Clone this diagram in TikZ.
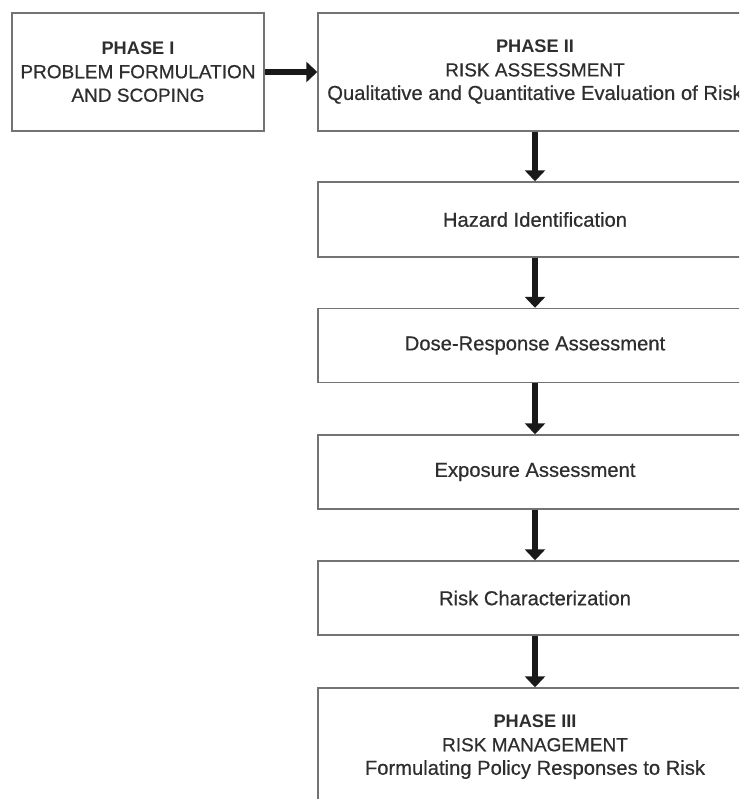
\documentclass[tikz,border=0pt]{standalone}
\usepackage{fontspec}
\setmainfont{Liberation Sans}
\newfontfamily\medfont{Liberation Sans}[FakeBold=0.5]
\usetikzlibrary{arrows.meta}
\definecolor{boxline}{gray}{0.45}
\definecolor{txt}{gray}{0.18}
\newcommand{\hd}[1]{{\fontsize{18.2}{23.5}\selectfont\bfseries #1}}
\newcommand{\cp}[1]{{\fontsize{19}{23.5}\selectfont\medfont #1}}
\newcommand{\lc}[1]{{\fontsize{20.2}{23.5}\selectfont\medfont #1}}
\begin{document}
\begin{tikzpicture}[x=1pt,y=-1pt,
  box/.style={draw=boxline, line width=1.4pt, fill=white, inner sep=0pt,
    text=txt, align=center, font=\fontsize{19}{23.5}\selectfont},
  wide/.style={box, minimum width=434pt},
  conn/.style={line width=6.5pt, draw=black!90,
    -{Triangle[width=20pt,length=11pt]}}]
\useasboundingbox (0,0) rectangle (739,799);
\clip (0,0) rectangle (739,799);
\node[box, minimum width=252pt, minimum height=118pt] (p1) at (138,72)
  {\hd{PHASE I}\\\cp{PROBLEM FORMULATION}\\\cp{AND SCOPING}};
\node[wide, minimum height=118pt] (p2) at (535,72)
  {\hd{PHASE II}\\\cp{RISK ASSESSMENT}\\\lc{Qualitative and Quantitative Evaluation of Risk}};
\node[wide, minimum height=75pt] (haz) at (535,219.5) {\lc{Hazard Identification}};
\node[wide, minimum height=74pt] (dose) at (535,345.5) {\lc{Dose-Response Assessment}};
\node[wide, minimum height=74pt] (exp) at (535,472) {\lc{Exposure Assessment}};
\node[wide, minimum height=74pt] (rc) at (535,598) {\lc{Risk Characterization}};
\node[wide, minimum height=118pt] (p3) at (535,747)
  {\hd{PHASE III}\\\cp{RISK MANAGEMENT}\\\lc{Formulating Policy Responses to Risk}};
\draw[conn] (p1.east) -- (p2.west);
\draw[conn] (p2.south) -- (haz.north);
\draw[conn] (haz.south) -- (dose.north);
\draw[conn] (dose.south) -- (exp.north);
\draw[conn] (exp.south) -- (rc.north);
\draw[conn] (rc.south) -- (p3.north);
\end{tikzpicture}
\end{document}
